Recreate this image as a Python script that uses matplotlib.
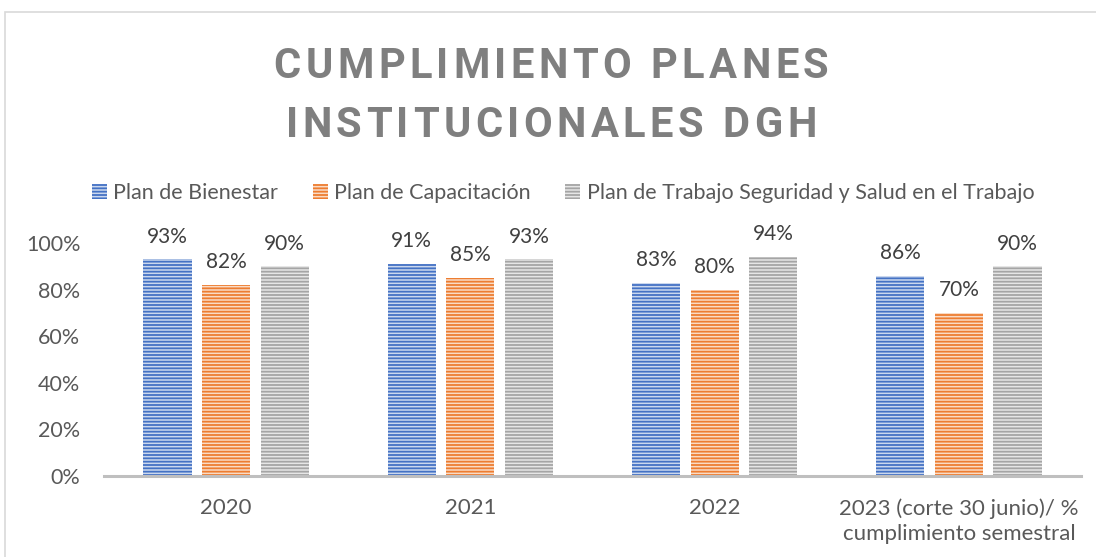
import matplotlib
matplotlib.use("Agg")
import matplotlib.pyplot as plt
import numpy as np
from matplotlib.patches import Rectangle, Patch
from matplotlib.font_manager import FontProperties, findfont
from matplotlib.textpath import TextToPath
from matplotlib.colors import to_rgb

categories = ["2020", "2021", "2022", "2023 (corte 30 junio)/ %\ncumplimiento semestral"]
series_names = ["Plan de Bienestar", "Plan de Capacitación",
                "Plan de Trabajo Seguridad y Salud en el Trabajo"]
bienestar = [0.93, 0.91, 0.83, 0.86]
capacitacion = [0.82, 0.85, 0.80, 0.70]
sst = [0.90, 0.93, 0.94, 0.90]
yticks = [0, 0.2, 0.4, 0.6, 0.8, 1.0]
ytick_labels = ["0%", "20%", "40%", "60%", "80%", "100%"]
title_lines = ["CUMPLIMIENTO PLANES", "INSTITUCIONALES DGH"]

colors = ["#4472C4", "#ED7D31", "#A5A5A5"]

plt.rcParams['font.family'] = ['Lato', 'DejaVu Sans']
plt.rcParams['hatch.linewidth'] = 1.3

W, H = 1096, 557
fig = plt.figure(figsize=(W / 100, H / 100), dpi=100)

def fx(px):
    return px / W

def fy(py):
    return 1 - py / H

# outer chart frame
fig.patches.append(Rectangle((fx(5), fy(600)), fx(1200), fy(12) - fy(600),
                             transform=fig.transFigure, fill=False,
                             edgecolor="#d9d9d9", lw=1.2))

ax = fig.add_axes([fx(104), fy(476), fx(1081) - fx(104), fy(243) - fy(476)])

def lighten(c, amt):
    r, g, b = to_rgb(c)
    return (r + (1 - r) * amt, g + (1 - g) * amt, b + (1 - b) * amt)

x = np.arange(len(categories))
width = 0.197
offsets = [-0.24, 0.0, 0.24]
all_series = [bienestar, capacitacion, sst]
handles = []
for vals, off, col, name in zip(all_series, offsets, colors, series_names):
    bars = ax.bar(x + off, vals, width, facecolor=lighten(col, 0.72),
                  edgecolor=col, hatch="-----", linewidth=0, label=name)
    for b, v in zip(bars, vals):
        ax.annotate(f"{round(v * 100):d}%", (b.get_x() + b.get_width() / 2, v),
                    xytext=(0, 12), textcoords="offset points",
                    ha="center", va="baseline", fontsize=15, color="#404040")
    handles.append(Patch(facecolor=lighten(col, 0.72), edgecolor=col,
                         hatch="-----", linewidth=0, label=name))

ax.set_xlim(-0.5, len(categories) - 0.5)
ax.set_ylim(0, 1.0)
ax.set_yticks(yticks)
ax.set_yticklabels(ytick_labels)
ax.set_xticks(x)
ax.set_xticklabels(categories, linespacing=1.35)
ax.tick_params(axis="both", length=0, labelcolor="#595959")
ax.tick_params(axis="y", pad=17, labelsize=15.5)
ax.tick_params(axis="x", pad=16, labelsize=16)
for s in ["top", "right", "left"]:
    ax.spines[s].set_visible(False)
ax.spines["bottom"].set_color("#bfbfbf")
ax.spines["bottom"].set_linewidth(2.2)
ax.patch.set_alpha(0)

# legend
leg = fig.legend(handles=handles, loc="center", bbox_to_anchor=(fx(563), fy(193)),
                 ncol=3, frameon=False, fontsize=15.5, labelcolor="#595959",
                 handlelength=0.7, handleheight=0.7, handletextpad=0.3,
                 columnspacing=1.6)

# title with letter spacing (bold font)
fp = None
for fam in ["Roboto", "Noto Sans", "Liberation Sans"]:
    cand = FontProperties(family=fam, weight="bold", size=30)
    path = findfont(cand).lower()
    if "bold" in path and fam.split()[0].lower() in path:
        fp = cand
        break
if fp is None:
    fp = FontProperties(family="DejaVu Sans", weight="bold", size=28)
ttp = TextToPath()
dpi = fig.dpi
target_width = 555
line_widths = []
for line in title_lines:
    ws = []
    for ch in line:
        w, h, d = ttp.get_text_width_height_descent(ch, fp, ismath=False)
        ws.append(w * dpi / 72)
    line_widths.append(ws)
tracking_px = (target_width - sum(line_widths[0])) / (len(title_lines[0]) - 1)
for line, widths, ypx in zip(title_lines, line_widths, [78, 137]):
    total = sum(widths) + tracking_px * (len(line) - 1)
    cur = 551 - total / 2
    for ch, w in zip(line, widths):
        fig.text(fx(cur), fy(ypx), ch, fontproperties=fp, color="#7f7f7f",
                 ha="left", va="baseline")
        cur += w + tracking_px

fig.savefig("out.png", dpi=100)
